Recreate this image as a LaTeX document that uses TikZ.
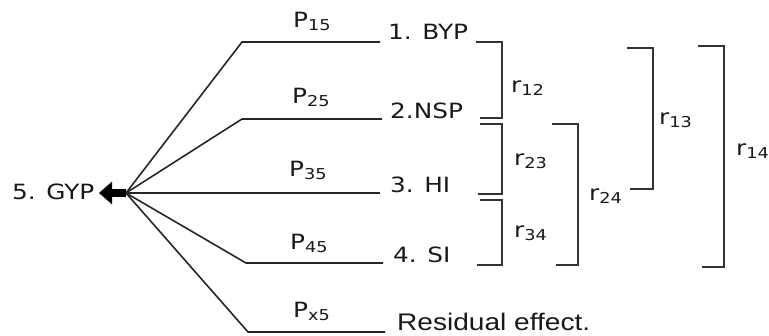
\documentclass[tikz,border=0pt]{standalone}
\usepackage{fontspec}
\setmainfont{DejaVu Sans}[FakeStretch=1.18]
\newfontfamily\resfont{Liberation Sans}[FakeStretch=1.17]
\usetikzlibrary{arrows.meta}
\newcommand{\subx}[1]{\raisebox{-3pt}{\fontsize{15}{17}\selectfont #1}}
\begin{document}
\begin{tikzpicture}[x=1pt,y=-1pt,
  lbl/.style={anchor=base west, inner sep=0pt, font=\fontsize{21}{25}\selectfont, text=black!90},
  reslbl/.style={anchor=base west, inner sep=0pt, font=\resfont\fontsize{24}{28}\selectfont, text=black!90},
  link/.style={draw=black!85, line width=1.6pt},
  bracket/.style={draw=black!80, line width=2pt}]
\useasboundingbox (0,0) rectangle (769,335);

% target and arrow
\node[lbl] (gyp) at (12,199) {5. GYP};
\coordinate (hub) at (126,193);
\coordinate (tip) at (99,193);
\draw[black, line width=8pt, -{Triangle[length=13pt 0 0, width=22pt 0 0]}] (hub) -- (tip);

% path lines
\coordinate (k1) at (242,42);  \coordinate (e1) at (380,42);
\coordinate (k2) at (242,119); \coordinate (e2) at (382,119);
\coordinate (e3) at (380,193);
\coordinate (k4) at (246,263); \coordinate (e4) at (383,263);
\coordinate (k5) at (248,332); \coordinate (e5) at (385,332);
\draw[link] (hub) -- (k1) -- (e1);
\draw[link] (hub) -- (k2) -- (e2);
\draw[link] (hub) -- (e3);
\draw[link] (hub) -- (k4) -- (e4);
\draw[link] (hub) -- (k5) -- (e5);

% path coefficients
\node[lbl] (p15) at (293,27)  {P\subx{15}};
\node[lbl] (p25) at (292,103) {P\subx{25}};
\node[lbl] (p35) at (289,176) {P\subx{35}};
\node[lbl] (p45) at (290,249) {P\subx{45}};
\node[lbl] (px5) at (293,317) {P\subx{x5}};

% variables
\node[lbl] (v1) at (388,39)  {1. BYP};
\node[lbl] (v2) at (390,118) {2.NSP};
\node[lbl] (v3) at (390,192) {3. HI};
\node[lbl] (v4) at (393,262) {4. SI};
\node[reslbl] (res) at (397,330) {Residual effect.};

% correlation brackets
\draw[bracket] (476,42) -| (502,118) -- (480,118);
\draw[bracket] (480,124) -| (502,194) -- (478,194);
\draw[bracket] (480,200) -| (502,265) -- (477,265);
\draw[bracket] (552,124) -| (578,265) -- (556,265);
\draw[bracket] (627,48) -| (653,189) -- (630,189);
\draw[bracket] (698,46) -| (724,267) -- (702,267);

\node[lbl] (r12) at (511,92)  {r\subx{12}};
\node[lbl] (r23) at (514,165) {r\subx{23}};
\node[lbl] (r34) at (514,237) {r\subx{34}};
\node[lbl] (r24) at (589,200) {r\subx{24}};
\node[lbl] (r13) at (659,124) {r\subx{13}};
\node[lbl] (r14) at (736,155) {r\subx{14}};
\end{tikzpicture}
\end{document}
